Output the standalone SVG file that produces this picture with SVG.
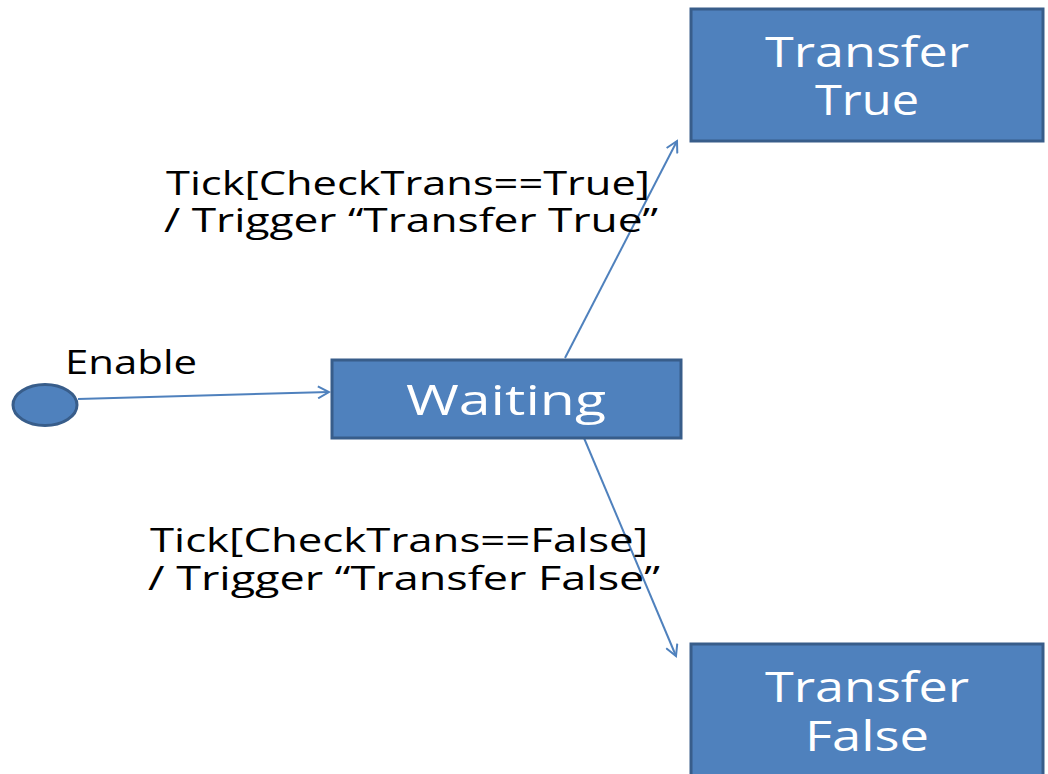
<svg xmlns="http://www.w3.org/2000/svg" width="1048" height="774" viewBox="0 0 1048 774">
<defs>
<style>
.box{fill:#4f81bd;stroke:#385d8a;stroke-width:3}
.nt{fill:#ffffff;font-family:"Open Sans","DejaVu Sans",sans-serif;font-size:42px;text-anchor:middle}
.lb{fill:#000000;font-family:"Open Sans","DejaVu Sans",sans-serif;font-size:32px}
.edge{stroke:#4f81bd;stroke-width:2;fill:none;marker-end:url(#arr)}
</style>
<marker id="arr" markerWidth="14" markerHeight="14" refX="12" refY="7" orient="auto" markerUnits="userSpaceOnUse">
<path d="M1,1 L12,7 L1,13" fill="none" stroke="#4f81bd" stroke-width="2"/>
</marker>
</defs>
<rect width="1048" height="774" fill="#ffffff"/>
<g id="connectors">
<line class="edge" x1="78" y1="399" x2="329" y2="392"/>
<line class="edge" x1="565" y1="358" x2="677" y2="141"/>
<line class="edge" x1="584" y1="438" x2="676" y2="656"/>
</g>
<g id="start">
<ellipse cx="45" cy="405" rx="32" ry="20.5" fill="#4f81bd" stroke="#385d8a" stroke-width="3"/>
</g>
<g id="waiting">
<rect class="box" x="332" y="360" width="349" height="78"/>
<text class="nt" x="506" y="415" textLength="200" lengthAdjust="spacingAndGlyphs">Waiting</text>
</g>
<g id="transfer-true">
<rect class="box" x="691" y="9" width="352" height="132"/>
<text class="nt" x="867" y="67" textLength="204" lengthAdjust="spacingAndGlyphs">Transfer</text>
<text class="nt" x="867" y="115" textLength="104" lengthAdjust="spacingAndGlyphs">True</text>
</g>
<g id="transfer-false">
<rect class="box" x="691" y="644" width="352" height="140"/>
<text class="nt" x="867" y="702" textLength="204" lengthAdjust="spacingAndGlyphs">Transfer</text>
<text class="nt" x="867" y="751" textLength="124" lengthAdjust="spacingAndGlyphs">False</text>
</g>
<g id="labels">
<text class="lb" x="65" y="374" textLength="132" lengthAdjust="spacingAndGlyphs">Enable</text>
<text class="lb" x="166" y="195" textLength="484" lengthAdjust="spacingAndGlyphs">Tick[CheckTrans==True]</text>
<text class="lb" x="164" y="232" textLength="494" lengthAdjust="spacingAndGlyphs">/ Trigger “Transfer True”</text>
<text class="lb" x="150" y="552" textLength="498" lengthAdjust="spacingAndGlyphs">Tick[CheckTrans==False]</text>
<text class="lb" x="148" y="590" textLength="512" lengthAdjust="spacingAndGlyphs">/ Trigger “Transfer False”</text>
</g>
</svg>
